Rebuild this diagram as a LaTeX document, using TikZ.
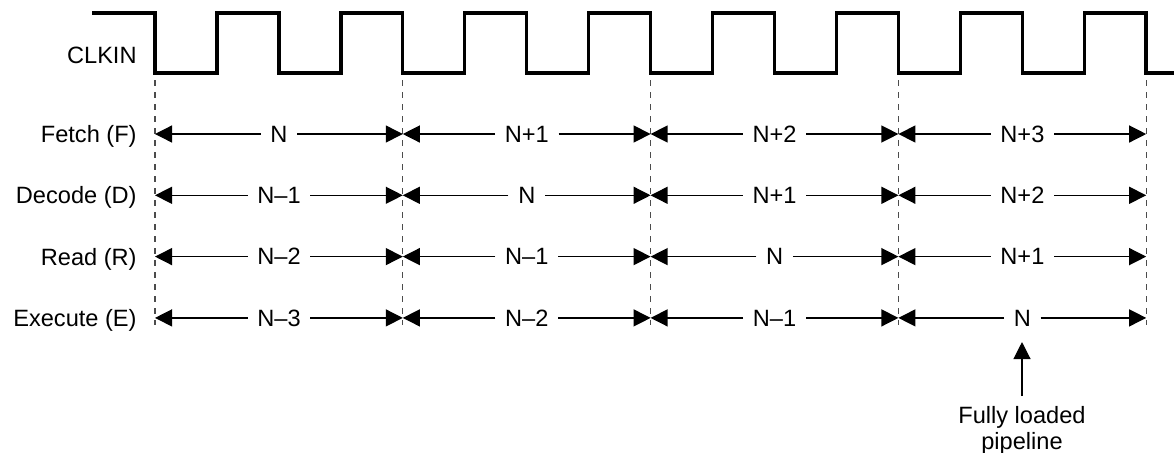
\documentclass[tikz,border=0pt]{standalone}
\usepackage{fontspec}
\setmainfont{Liberation Sans}
\usetikzlibrary{arrows.meta}

\begin{document}
\begin{tikzpicture}[x=0.5pt, y=-0.5pt,
  every node/.style={font=\fontsize{11.8}{12.8}\selectfont},
  clkline/.style={line width=1.65pt, line join=miter},
  gridline/.style={black!70, line width=0.6pt, dash pattern=on 2.75pt off 3.25pt},
  stagearrow/.style={line width=0.65pt, -{Triangle[length=8.5pt, width=8.5pt]}},
  stagelabel/.style={anchor=base east, inner sep=0pt},
  slotlabel/.style={inner xsep=4.7pt, inner ysep=3pt, text depth=0pt}]
  \useasboundingbox (0,0) rectangle (1174,452);

  % clock
  \draw[clkline] (92,13) foreach \k in {0,...,7} {
      -- ({155+123.9*\k},13) -- ++(0,60) -- ++(62,0) -- ++(0,-60)}
    -- (1146,13) -- (1146,73) -- (1174,73);
  \node[stagelabel] (clk) at (137,63) {CLKIN};

  % stage boundaries
  \foreach \col in {0,...,4}
    \draw[gridline] ({155+247.8*\col},80) -- ({155+247.8*\col},325);

  % pipeline rows
  \foreach \stage/\tag/\la/\lb/\lc/\ld [count=\row from 0] in {
      Fetch (F)/f/N/N+1/N+2/N+3,
      Decode (D)/d/N\textendash1/N/N+1/N+2,
      Read (R)/r/N\textendash2/N\textendash1/N/N+1,
      Execute (E)/e/N\textendash3/N\textendash2/N\textendash1/N} {
    \pgfmathsetmacro{\rowy}{134+61.3*\row}
    \node[stagelabel] (\tag lab) at (137,\rowy+8.4) {\stage};
    \foreach \slot [count=\col from 0] in {\la,\lb,\lc,\ld} {
      \coordinate (\tag L\col) at ({155+247.8*\col},\rowy);
      \coordinate (\tag R\col) at ({155+247.8*(\col+1)},\rowy);
      \node[slotlabel] (\tag\col) at ({279+247.8*\col},\rowy) {\slot};
      \draw[stagearrow] (\tag\col) -- (\tag L\col);
      \draw[stagearrow] (\tag\col) -- (\tag R\col);
    }
  }

  % note
  \node[align=center, inner sep=0pt, anchor=north] (loaded) at (1022,406) {Fully loaded\\pipeline};
  \draw[stagearrow, line width=0.6pt, shorten <=5pt, shorten >=4.8pt]
    (loaded.north) -- (loaded.north |- e3.south);
\end{tikzpicture}
\end{document}
